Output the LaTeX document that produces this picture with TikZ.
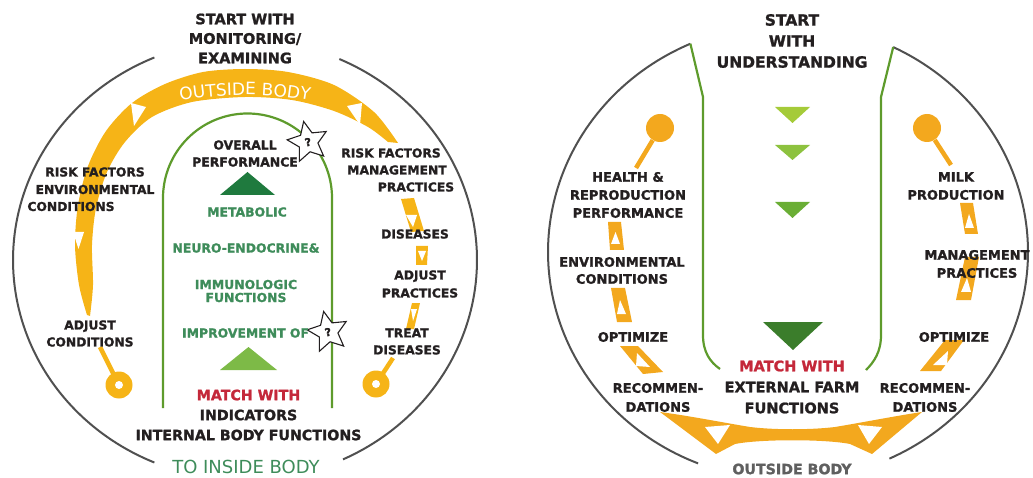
\documentclass[tikz,border=0pt]{standalone}
\usepackage{fontspec}
\setmainfont{DejaVu Sans}[BoldFeatures={FakeBold=1.3}]
\usetikzlibrary{shapes.geometric,decorations.text}

\definecolor{ink}{HTML}{231F20}
\definecolor{rim}{HTML}{505050}
\definecolor{gold}{HTML}{F6B417}
\definecolor{amber}{HTML}{F3A81E}
\definecolor{leaf}{HTML}{5E9B2C}
\definecolor{sage}{HTML}{3E8C5A}
\definecolor{forest}{HTML}{1F7A3E}
\definecolor{lime}{HTML}{7DBA47}
\definecolor{crimson}{HTML}{C4283A}
\definecolor{pale}{HTML}{A5CB39}
\definecolor{mid}{HTML}{8DC23F}
\definecolor{deep}{HTML}{6AAE35}
\definecolor{olive}{HTML}{3B7D2B}
\definecolor{fog}{HTML}{5F5F5F}

\tikzset{
  rimline/.style={draw=rim, line width=2pt},
  archline/.style={draw=leaf, line width=2.2pt},
  lbl/.style={font=\bfseries\fontsize{12.3}{17}\selectfont, text=ink, align=center, inner sep=0pt},
  lblr/.style={font=\bfseries\fontsize{13}{18}\selectfont, text=ink, align=center, inner sep=0pt},
  head/.style={font=\bfseries\fontsize{14.5}{19.5}\selectfont, text=ink, align=center, inner sep=0pt},
  foot/.style={font=\bfseries\fontsize{14.2}{20}\selectfont, text=ink, align=center, inner sep=0pt},
  bodytext/.style={font=\bfseries\fontsize{12.4}{17}\selectfont, text=sage, align=center, inner sep=0pt},
  qstar/.style={star, star points=5, star point ratio=2.1, draw=ink, fill=white, line width=1.1pt,
    minimum size=42pt, inner sep=0pt, font=\bfseries\fontsize{11}{11}\selectfont, text=ink},
  ring/.style={circle, fill=gold, minimum size=27pt, inner sep=0pt},
  hole/.style={circle, fill=white, minimum size=8pt, inner sep=0pt},
  dot/.style={circle, fill=amber, minimum size=28pt, inner sep=0pt},
  stem/.style={line width=4.5pt},
}

\begin{document}
\begin{tikzpicture}[x=1pt,y=-1pt]
\useasboundingbox (0,0) rectangle (1033,478);

% ---------------- left wheel: monitoring ----------------
% outer rim, open at top and bottom
\draw[rimline] plot[domain=113:247, samples=90] ({245+232*cos(\x)},{260-220*sin(\x)});
\draw[rimline] plot[domain=66:-65, samples=90] ({245+232*cos(\x)},{260-220*sin(\x)});

% the broad "outside body" band
\fill[gold] plot[smooth] coordinates {(398,143) (374,112) (334,85) (288,72) (245,69) (203,72) (165,84) (132,103) (106,131) (88,166) (78,205) (75,245) (79,285) (87,315)}
  -- plot[smooth] coordinates {(90,316) (93,285) (92,245) (96,208) (107,172) (125,142) (152,117) (192,102) (245,97) (292,100) (334,111) (368,127) (388,142)} -- cycle;
\fill[white] (131,103) -- (146,107) -- (134,126) -- cycle;
\fill[white] (347,106) -- (362,103) -- (360,125) -- cycle;
\fill[white] (73,232) -- (84,232) -- (78.5,249) -- cycle;
\path[decorate, decoration={text along path, text align=center,
    text={|\fontsize{17}{17}\selectfont\color{white}|OUTSIDE BODY}}]
  plot[domain=110:70, samples=40, smooth] ({245+370*cos(\x)},{465-370*sin(\x)});

% dashed run on the right side
\fill[gold] (401,199) -- (414,198) -- (424,231) -- (411,232) -- cycle;
\fill[white] (406,215) -- (417,215) -- (413,227) -- cycle;
\fill[gold] (416,246) -- (428,246) -- (427,265) -- (416,265) -- cycle;
\fill[white] (418,251) -- (426,251) -- (422,261) -- cycle;
\fill[gold] (412,303) -- (420,303) -- (414,329) -- (406,329) -- cycle;
\fill[white] (411,309) -- (417,309) -- (413,321) -- cycle;

% end rings
\coordinate (stemL) at (100,347);
\coordinate (stemR) at (393,358);
\draw[gold, stem] (stemL) -- (119,385);
\draw[gold, stem] (stemR) -- (376,384);
\node[ring] (ringL) at (119,385) {};
\node[hole] (holeL) at (ringL) {};
\node[ring] (ringR) at (376,384) {};
\node[hole] (holeR) at (ringR) {};

% inner arch: inside the body
\draw[archline, rounded corners=84.5pt] (163,408) -- (163,113.5) -- (332,113.5) -- (332,408);
\fill[forest] (220,195) -- (275,195) -- (247.5,172) -- cycle;
\fill[lime] (220,370) -- (277,370) -- (248.5,347) -- cycle;
\node[qstar, rotate=12] (q1) at (308,142) {?};
\node[qstar, rotate=12] (q2) at (328,332) {?};

% labels
\node[head] (mon) at (245,38.5) {START WITH\\MONITORING/\\EXAMINING};
\node[lbl] (rfa) at (95,172) {RISK FACTORS};
\node[lbl] (rfb) at (95,189.5) {ENVIRONMENTAL};
\node[lbl] (rfc) at (71,206.5) {CONDITIONS};
\node[lbl] (adjc) at (90,333.5) {ADJUST\\CONDITIONS};
\node[lbl] (rma) at (391,153) {RISK FACTORS};
\node[lbl] (rmb) at (397,170) {MANAGEMENT};
\node[lbl] (rmc) at (416,187) {PRACTICES};
\node[lbl] (dis) at (415,234) {DISEASES};
\node[lbl, font=\bfseries\fontsize{12.3}{18}\selectfont] (adjp) at (420,284) {ADJUST\\PRACTICES};
\node[lbl] (treat) at (407,341.5) {TREAT\\DISEASES};
\node[bodytext, text=ink] (perf) at (245,153.5) {OVERALL\\PERFORMANCE};
\node[bodytext] (meta) at (247,212) {METABOLIC};
\node[bodytext] (neuro) at (246,248) {NEURO-ENDOCRINE\&};
\node[bodytext, font=\bfseries\fontsize{12.4}{13}\selectfont] (immu) at (246,291) {IMMUNOLOGIC\\FUNCTIONS};
\node[bodytext] (impr) at (245.5,333) {IMPROVEMENT OF};
\node[foot] (ind) at (248.5,415) {\textcolor{crimson}{MATCH WITH}\\INDICATORS\\INTERNAL BODY FUNCTIONS};
\node[font=\fontsize{18}{18}\selectfont, text=sage, inner sep=0pt] (inside) at (246,467) {TO INSIDE BODY};

% ---------------- right wheel: understanding ----------------
\draw[rimline] plot[domain=114:248, samples=90] ({788+240*cos(\x)},{252-228*sin(\x)});
\draw[rimline] plot[domain=64:-65, samples=90] ({788+240*cos(\x)},{252-228*sin(\x)});
\coordinate (topL) at ({788+240*cos(114)},{252-228*sin(114)});
\coordinate (topR) at ({788+240*cos(64)},{252-228*sin(64)});

% open channel
\draw[archline] (topL) -- (703,97) -- (703,335) .. controls (703,352) and (710,362) .. (720,369);
\draw[archline] (topR) -- (881,97) -- (881,335) .. controls (881,352) and (874,362) .. (866,370);

% downward cues
\fill[pale] (775,107) -- (810,107) -- (792.5,123) -- cycle;
\fill[mid] (775,145) -- (810,145) -- (792.5,160) -- cycle;
\fill[deep] (775,202) -- (810,202) -- (792.5,218) -- cycle;
\fill[olive] (763,322) -- (823,322) -- (793,350) -- cycle;

% bottom band with outward arrows
\fill[amber] (660,412) .. controls (690,416) and (720,422) .. (750,427)
  .. controls (775,430) and (810,430) .. (835,427)
  .. controls (865,422) and (895,416) .. (922,412)
  -- (872,454) -- (850,444) .. controls (825,439) and (760,439) .. (735,444)
  -- (716,454) -- cycle;
\fill[white] (705,427) -- (730,425) -- (718,444) -- cycle;
\fill[white] (858,425) -- (882,427) -- (869,444) -- cycle;

% rising runs on both sides
\fill[amber] (608,222) -- (621,222) -- (624,250) -- (610,250) -- cycle;
\fill[white] (611,244) -- (620,244) -- (615.5,232) -- cycle;
\fill[amber] (611,288) -- (625,288) -- (632,322) -- (617,322) -- cycle;
\fill[white] (617,314) -- (626,314) -- (620,300) -- cycle;
\fill[amber] (620,346) -- (638,346) -- (663,372) -- (643,374) -- cycle;
\fill[white] (636,366) -- (650,367) -- (637,353) -- cycle;
\fill[amber] (960,203) -- (973,203) -- (978,234) -- (965,234) -- cycle;
\fill[white] (965,228) -- (974,228) -- (969,214) -- cycle;
\fill[amber] (965,257) -- (979,257) -- (971,300) -- (956,300) -- cycle;
\fill[white] (961,292) -- (971,292) -- (967,278) -- cycle;
\fill[amber] (945,340) -- (964,340) -- (941,371) -- (920,371) -- cycle;
\fill[white] (933,365) -- (947,365) -- (948,351) -- cycle;

% top dots
\node[dot] (dotL) at (660,128) {};
\node[dot] (dotR) at (927,128) {};
\coordinate (tailL) at (636,168);
\coordinate (tailR) at (951,165);
\draw[amber, stem] (dotL) -- (tailL);
\draw[amber, stem] (dotR) -- (tailR);

% labels
\node[head, font=\bfseries\fontsize{15.5}{21}\selectfont] (und) at (792,41) {START\\WITH\\UNDERSTANDING};
\node[lblr] (hrp) at (628,195) {HEALTH \&\\REPRODUCTION\\PERFORMANCE};
\node[lblr, font=\bfseries\fontsize{13}{17}\selectfont] (env) at (622,270.5) {ENVIRONMENTAL\\CONDITIONS};
\node[lblr] (optL) at (633,337) {OPTIMIZE};
\node[lblr, font=\bfseries\fontsize{13}{19}\selectfont] (recL) at (658,397.5) {RECOMMEN-\\DATIONS};
\node[lblr] (milk) at (956,186) {MILK\\PRODUCTION};
\node[lblr] (mgmt) at (977,264) {MANAGEMENT\\PRACTICES};
\node[lblr] (optR) at (954,337) {OPTIMIZE};
\node[lblr, font=\bfseries\fontsize{13}{19}\selectfont] (recR) at (925,397.5) {RECOMMEN-\\DATIONS};
\node[foot, font=\bfseries\fontsize{14.5}{21}\selectfont] (farm) at (792,387) {\textcolor{crimson}{MATCH WITH}\\EXTERNAL FARM\\FUNCTIONS};
\node[foot, text=fog] (outside) at (792,469) {OUTSIDE BODY};
\end{tikzpicture}
\end{document}
